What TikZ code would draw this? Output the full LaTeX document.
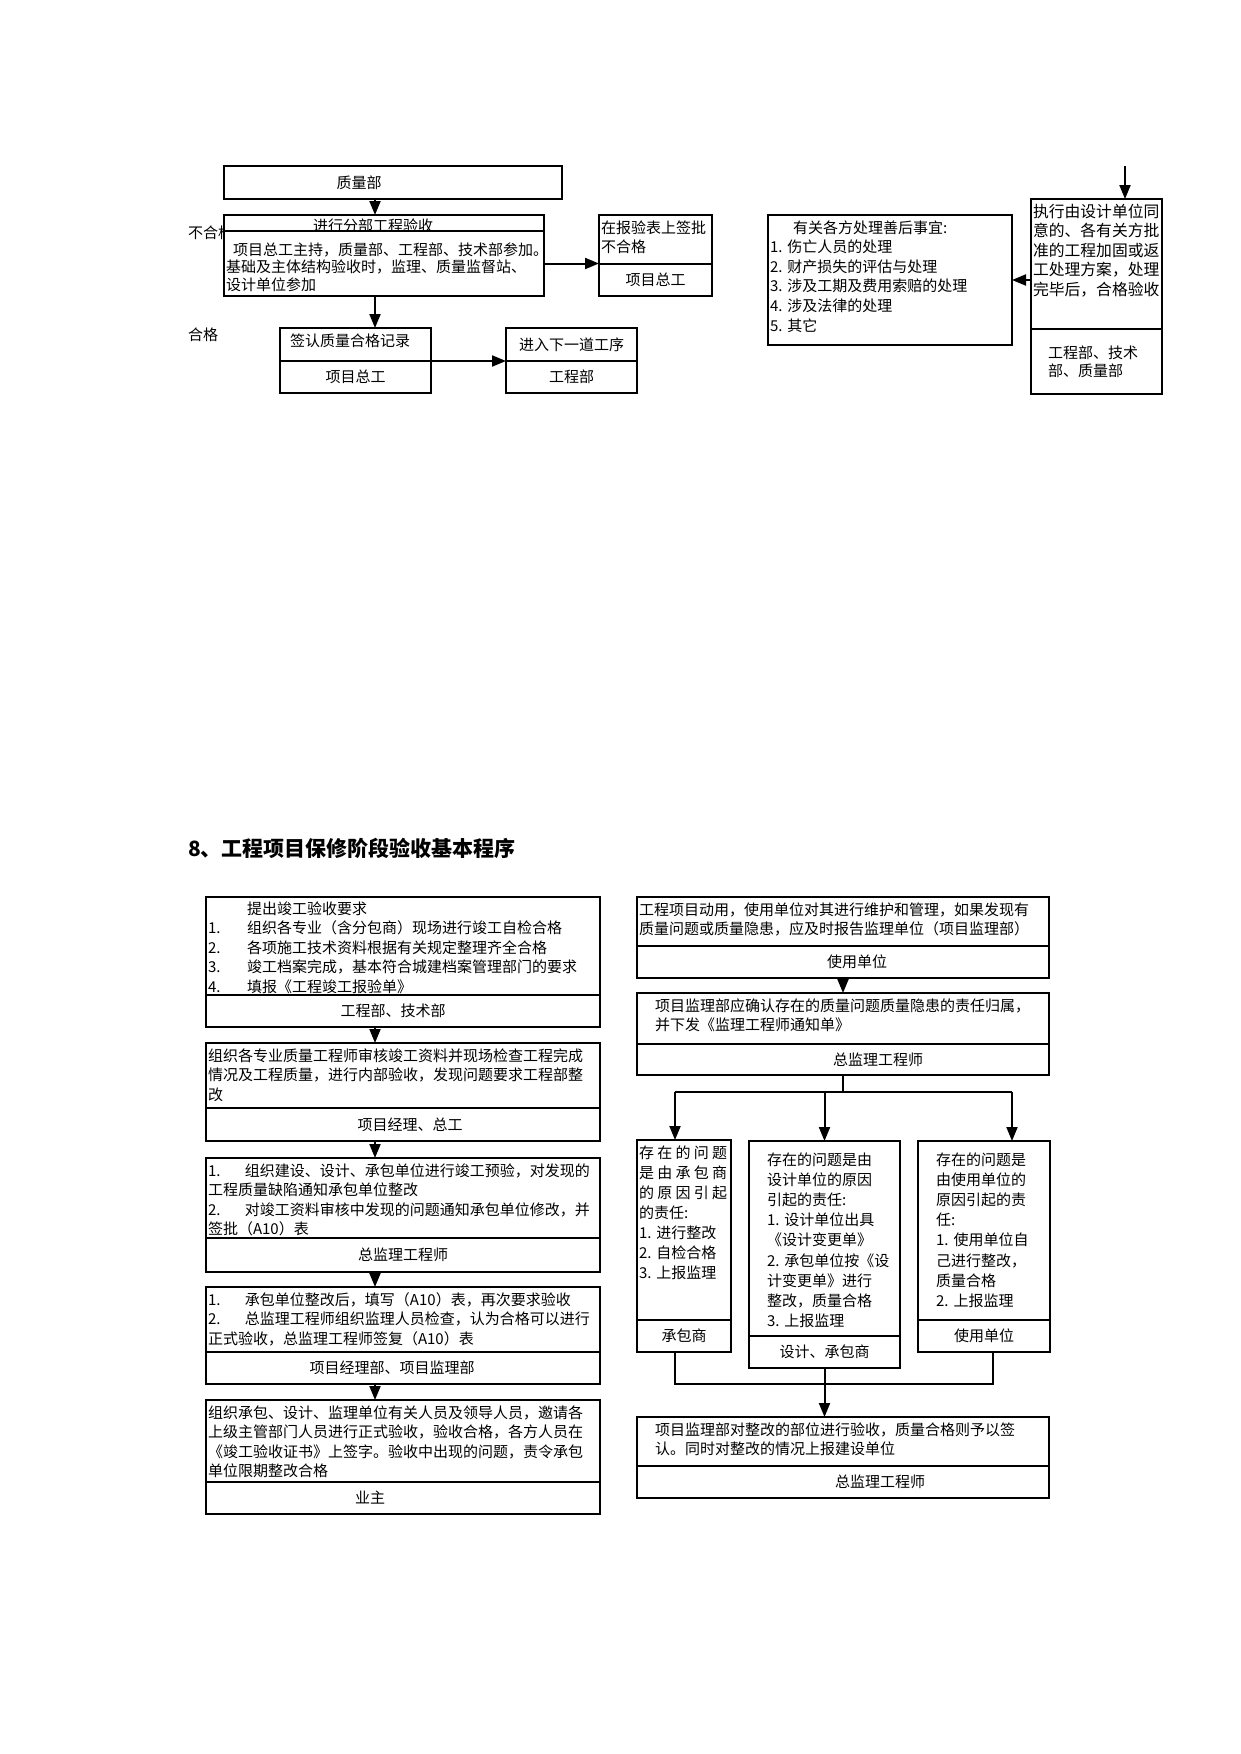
\documentclass[tikz,border=0pt]{standalone}
\usepackage{fontspec}
\setmainfont{Noto Sans CJK SC}
\usetikzlibrary{arrows.meta,positioning}
\tikzset{
  cell/.style={draw, rectangle, fill=white, line width=1.8pt, outer sep=0pt, inner xsep=2pt, inner ysep=3pt, align=left, anchor=north west, text height=15pt, font=\fontsize{15pt}{19.6pt}\selectfont},
  foot/.style={draw, rectangle, fill=white, line width=1.8pt, outer sep=0pt, inner xsep=2pt, inner ysep=0pt, align=center, font=\fontsize{15pt}{19.6pt}\selectfont},
  tag/.style={anchor=west, inner sep=0pt, font=\fontsize{15pt}{18pt}\selectfont},
  arr/.style={-{Triangle[length=14pt,width=11pt]}, line width=2pt},
  wire/.style={line width=2pt}
}
\newcommand{\spread}[1]{{\addfontfeature{LetterSpace=22}#1}}

\begin{document}
\begin{tikzpicture}[x=1pt,y=-1pt]
\useasboundingbox (0,0) rectangle (1241,1754);

% upper flow
\node[tag] (bhg) at (188,233) {不合格};
\node[tag] (hg) at (188,335) {合格};
\node[foot, anchor=north west, text width=334pt, minimum height=33pt] (zlb) at (224,166) {\hspace*{-68pt}质量部};
\node[foot, anchor=north west, text width=316pt, text height=16pt, text depth=0pt, minimum height=16pt] (fbhead) at (224,215) {\hspace*{-22pt}进行分部工程验收};
\node[cell, below=0pt of fbhead, text width=316pt, text height=21pt, text depth=38pt, font=\fontsize{15pt}{17.5pt}\selectfont] (fbbody) {\hspace*{7pt}项目总工主持，质量部、工程部、技术部参加。\\基础及主体结构验收时，监理、质量监督站、\\设计单位参加};
\node[cell, text width=109pt, text depth=28pt] (bpbtop) at (599,215) {在报验表上签批\\不合格};
\node[foot, below=0pt of bpbtop, text width=109pt, minimum height=32pt] (bpbfoot) {项目总工};
\node[cell, text width=147pt, text depth=12pt] (qrtop) at (280,328) {\hspace*{8pt}签认质量合格记录};
\node[foot, below=0pt of qrtop, text width=147pt, minimum height=32pt] (qrfoot) {项目总工};
\node[foot, anchor=north west, text width=127pt, minimum height=33pt] (jrtop) at (506,328) {进入下一道工序};
\node[foot, below=0pt of jrtop, text width=127pt, minimum height=32pt] (jrfoot) {工程部};

\coordinate (ax) at (375,0);
\draw[arr] (zlb.south -| ax) -- (fbhead.north -| ax);
\draw[arr] (fbbody.south -| ax) -- (qrtop.north -| ax);
\draw[arr] (fbbody.east) -- (fbbody.east -| bpbtop.west);
\draw[arr] (qrtop.south east) -- (qrtop.south east -| jrtop.west);

% remedy
\coordinate (zxin) at (1125,166);
\node[cell, text width=127pt, text depth=109pt, font=\fontsize{15.8pt}{19.5pt}\selectfont] (zxtop) at (1031,199) {执行由设计单位同\\意的、各有关方批\\准的工程加固或返\\工处理方案，处理\\完毕后，合格验收};
\node[foot, below=0pt of zxtop, text width=127pt, minimum height=65pt, align=left, font=\fontsize{15pt}{18pt}\selectfont] (zxfoot) {\hspace*{15pt}工程部、技术\\\hspace*{15pt}部、质量部};
\node[cell, text width=240pt, text depth=109pt] (yg) at (768,215) {\hspace*{23pt}有关各方处理善后事宜:\\1.~伤亡人员的处理\\2.~财产损失的评估与处理\\3.~涉及工期及费用索赔的处理\\4.~涉及法律的处理\\5.~其它};
\coordinate (ay) at (0,280);
\draw[arr] (zxin) -- (zxtop.north -| zxin);
\draw[arr] (zxtop.west |- ay) -- (yg.east |- ay);

% section 8
\node[anchor=west, inner sep=0pt, font=\fontsize{21pt}{25pt}\selectfont\bfseries] (title) at (188,848) {8、工程项目保修阶段验收基本程序};

% left column
\node[cell, text width=390pt, text height=14pt, text depth=78pt] (L1top) at (206,897) {\hspace*{39pt}提出竣工验收要求\\\makebox[39pt][l]{1.}组织各专业（含分包商）现场进行竣工自检合格\\\makebox[39pt][l]{2.}各项施工技术资料根据有关规定整理齐全合格\\\makebox[39pt][l]{3.}竣工档案完成，基本符合城建档案管理部门的要求\\\makebox[39pt][l]{4.}填报《工程竣工报验单》};
\node[foot, below=0pt of L1top, text width=390pt, minimum height=32pt] (L1foot) {\hspace*{-20pt}工程部、技术部};
\node[cell, text width=390pt, text depth=44pt] (L2top) at (206,1043) {组织各专业质量工程师审核竣工资料并现场检查工程完成\\情况及工程质量，进行内部验收，发现问题要求工程部整\\改};
\node[foot, below=0pt of L2top, text width=390pt, minimum height=33pt] (L2foot) {\hspace*{14pt}项目经理、总工};
\node[cell, text width=390pt, text depth=59pt] (L3top) at (206,1158) {\makebox[37pt][l]{1.}组织建设、设计、承包单位进行竣工预验，对发现的\\工程质量缺陷通知承包单位整改\\\makebox[37pt][l]{2.}对竣工资料审核中发现的问题通知承包单位修改，并\\签批（A10）表};
\node[foot, below=0pt of L3top, text width=390pt, minimum height=34pt] (L3foot) {总监理工程师};
\node[cell, text width=390pt, text depth=44pt] (L4top) at (206,1287) {\makebox[37pt][l]{1.}承包单位整改后，填写（A10）表，再次要求验收\\\makebox[37pt][l]{2.}总监理工程师组织监理人员检查，认为合格可以进行\\正式验收，总监理工程师签复（A10）表};
\node[foot, below=0pt of L4top, text width=390pt, minimum height=32pt] (L4foot) {\hspace*{-22pt}项目经理部、项目监理部};
\node[cell, text width=390pt, text depth=61pt] (L5top) at (206,1400) {组织承包、设计、监理单位有关人员及领导人员，邀请各\\上级主管部门人员进行正式验收，验收合格，各方人员在\\《竣工验收证书》上签字。验收中出现的问题，责令承包\\单位限期整改合格};
\node[foot, below=0pt of L5top, text width=390pt, minimum height=32pt] (L5foot) {\hspace*{-66pt}业主};

\coordinate (lx) at (375,0);
\draw[arr] (L1foot.south -| lx) -- (L2top.north -| lx);
\draw[arr] (L2foot.south -| lx) -- (L3top.north -| lx);
\draw[arr] (L3foot.south -| lx) -- (L4top.north -| lx);
\draw[arr] (L4foot.south -| lx) -- (L5top.north -| lx);

% right column
\node[cell, text width=408pt, text depth=28pt] (R1top) at (637,897) {工程项目动用，使用单位对其进行维护和管理，如果发现有\\质量问题或质量隐患，应及时报告监理单位（项目监理部）};
\node[foot, below=0pt of R1top, text width=408pt, minimum height=32pt] (R1foot) {\hspace*{28pt}使用单位};
\node[cell, text width=408pt, text depth=30pt] (R2top) at (637,993) {\hspace*{16pt}项目监理部应确认存在的质量问题质量隐患的责任归属，\\\hspace*{16pt}并下发《监理工程师通知单》};
\node[foot, below=0pt of R2top, text width=408pt, minimum height=31pt] (R2foot) {\hspace*{70pt}总监理工程师};
\draw[arr] (R1foot.south) -- (R2top.north);

\node[cell, text width=90pt, text depth=159pt, font=\fontsize{15pt}{20pt}\selectfont] (C1top) at (637,1140) {\spread{存在的问题}\\\spread{是由承包商}\\\spread{的原因引起}\\的责任:\\1.~进行整改\\2.~自检合格\\3.~上报监理};
\node[foot, below=0pt of C1top, text width=90pt, minimum height=32pt] (C1foot) {承包商};
\node[cell, inner xsep=16pt, text width=119pt, text height=21pt, text depth=168pt, font=\fontsize{15pt}{20.2pt}\selectfont] (C2top) at (749,1141) {\hspace*{2pt}存在的问题是由\\\hspace*{2pt}设计单位的原因\\\hspace*{2pt}引起的责任:\\\hspace*{2pt}1.~设计单位出具\\\hspace*{2pt}《设计变更单》\\\hspace*{2pt}2.~承包单位按《设\\\hspace*{2pt}计变更单》进行\\\hspace*{2pt}整改，质量合格\\\hspace*{2pt}3.~上报监理};
\node[foot, below=0pt of C2top, text width=147pt, minimum height=32pt] (C2foot) {设计、承包商};
\node[cell, inner xsep=18pt, text width=96pt, text height=21pt, text depth=152pt, font=\fontsize{15pt}{20.2pt}\selectfont] (C3top) at (918,1141) {存在的问题是\\由使用单位的\\原因引起的责\\任:\\1.~使用单位自\\己进行整改，\\质量合格\\2.~上报监理};
\node[foot, below=0pt of C3top, text width=128pt, minimum height=32pt] (C3foot) {使用单位};

\coordinate (brL) at (675,1092);
\coordinate (brR) at (1012,1092);
\draw[wire] (R2foot.south) -- (R2foot.south |- brL);
\draw[wire] (brL) -- (brR);
\draw[arr] (brL) -- (C1top.north -| brL);
\draw[arr] (C2top.north |- brL) -- (C2top.north);
\draw[arr] (brR) -- (C3top.north -| brR);

\node[cell, text width=408pt, text depth=28pt] (Ftop) at (637,1417) {\hspace*{16pt}项目监理部对整改的部位进行验收，质量合格则予以签\\\hspace*{16pt}认。同时对整改的情况上报建设单位};
\node[foot, below=0pt of Ftop, text width=408pt, minimum height=32pt] (Ffoot) {\hspace*{74pt}总监理工程师};

\coordinate (mgL) at (675,1384);
\coordinate (mgR) at (993,1384);
\draw[wire] (C1foot.south -| mgL) -- (mgL) -- (mgR) -- (C3foot.south -| mgR);
\draw[wire] (C2foot.south) -- (C2foot.south |- mgL);
\draw[arr] (C2foot.south |- mgL) -- (Ftop.north -| C2foot.south);
\end{tikzpicture}
\end{document}
